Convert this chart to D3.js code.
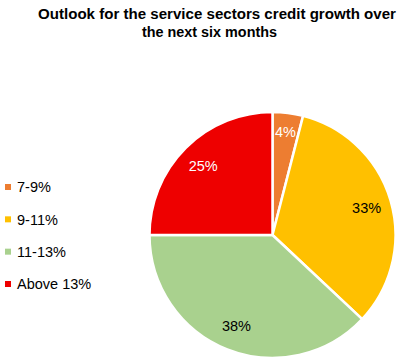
<!DOCTYPE html>
<html lang="en">
<head>
    <meta charset="UTF-8">
    <title>Service sectors credit growth outlook</title>
    <script src="https://cdn.jsdelivr.net/npm/d3@7"></script>
    <style>
        body { margin: 0; background: #fff; }
        text { font-family: "Liberation Sans", Arial, sans-serif; }
    </style>
</head>
<body>
    <svg id="chart" width="400" height="364"></svg>

    <script>
    "use strict";

    // data
    var categories = ["7-9%", "9-11%", "11-13%", "Above 13%"];
    var shares = [4, 33, 38, 25];
    var colors = ["#ED7D31", "#FFC000", "#A9D18E", "#EE0000"];
    var labelColors = ["#fff", "#000", "#000", "#fff"];
    var titleLines = ["Outlook for the service sectors credit growth over", "the next six months"];

    var svg = d3.select("#chart");

    // title (Calibri-like width forced with textLength)
    svg.append("text")
        .attr("x", 217).attr("y", 19)
        .attr("text-anchor", "middle")
        .attr("font-weight", "bold")
        .attr("font-size", 14.5)
        .attr("textLength", 358)
        .attr("lengthAdjust", "spacingAndGlyphs")
        .text(titleLines[0]);
    svg.append("text")
        .attr("x", 209.5).attr("y", 37)
        .attr("text-anchor", "middle")
        .attr("font-weight", "bold")
        .attr("font-size", 14.5)
        .attr("textLength", 135)
        .attr("lengthAdjust", "spacingAndGlyphs")
        .text(titleLines[1]);

    // pie
    var cx = 272.5, cy = 235, radius = 123;
    var pie = d3.pie().sort(null).value(function (d) { return d; });
    var arcs = pie(shares);
    var arc = d3.arc().innerRadius(0).outerRadius(radius);

    var g = svg.append("g").attr("transform", "translate(" + cx + "," + cy + ")");

    g.selectAll("path.slice")
        .data(arcs)
        .enter().append("path")
        .attr("class", "slice")
        .attr("d", arc)
        .attr("fill", function (d, i) { return colors[i]; })
        .attr("stroke", "#fff")
        .attr("stroke-width", 2.5)
        .attr("stroke-linejoin", "round");

    // labels sit a bit further out on thin slices
    g.selectAll("text.lbl")
        .data(arcs)
        .enter().append("text")
        .attr("class", "lbl")
        .attr("transform", function (d) {
            var r = (d.endAngle - d.startAngle) < 0.4 ? 104 : 98;
            var c = d3.arc().innerRadius(r).outerRadius(r).centroid(d);
            return "translate(" + c[0] + "," + c[1] + ")";
        })
        .attr("text-anchor", "middle")
        .attr("dy", "0.35em")
        .attr("font-size", 14.5)
        .attr("fill", function (d, i) { return labelColors[i]; })
        .text(function (d) { return d.value + "%"; });

    // legend
    var legendY = d3.scalePoint().domain(categories).range([187, 284]);

    var legend = svg.selectAll("g.legend")
        .data(categories)
        .enter().append("g")
        .attr("class", "legend")
        .attr("transform", function (d) { return "translate(5," + legendY(d) + ")"; });

    legend.append("rect")
        .attr("x", 0).attr("y", -3)
        .attr("width", 6).attr("height", 6)
        .attr("fill", function (d, i) { return colors[i]; });

    legend.append("text")
        .attr("x", 12)
        .attr("dy", "0.36em")
        .attr("font-size", 14.5)
        .attr("fill", "#000")
        .text(function (d) { return d; });
    </script>
</body>
</html>
